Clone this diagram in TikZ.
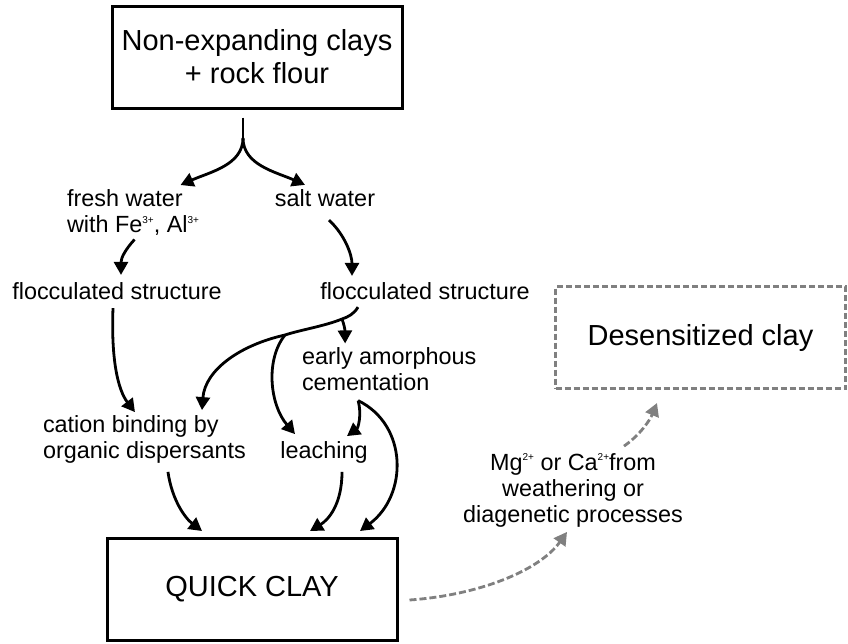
\documentclass[tikz,border=0pt]{standalone}
\usepackage{fontspec}
\setmainfont{Liberation Sans}
\usetikzlibrary{arrows.meta}
\newcommand{\chg}[1]{\raisebox{9.5pt}{\fontsize{10}{10}\selectfont #1}}
\tikzset{
	bigbox/.style={draw, line width=3pt, minimum width=290pt, minimum height=102pt, align=center, font=\fontsize{29}{33}\selectfont},
	txt/.style={inner sep=0pt, outer sep=0pt, font=\fontsize{23.4}{26}\selectfont},
	flow/.style={line width=2.8pt, -{Triangle[length=13pt,width=14pt]}},
	grayflow/.style={flow, draw=black!50, dash pattern=on 7pt off 3pt},
}

\begin{document}
\begin{tikzpicture}[x=1pt, y=-1pt]
		%%%%% START %%%%%
		\useasboundingbox (0,0) rectangle (848,643);
		
		\node[bigbox] (top) at (257,57) {Non-expanding clays\\+ rock flour};
		\node[bigbox] (quick) at (252,589.5) {QUICK CLAY};
		\node[bigbox, draw=black!50, dash pattern=on 6pt off 3pt] (desens) at (700.5,337.5) {Desensitized clay};
		
		\node[txt, anchor=west, align=left] (fresh) at (67,213) {fresh water\\with Fe\chg{3+}, Al\chg{3+}};
		\node[txt] (salt) at (325,198.5) {salt water};
		\node[txt] (flocL) at (117,291.5) {flocculated structure};
		\node[txt] (flocR) at (425,291.5) {flocculated structure};
		\node[txt, anchor=west, align=left] (early) at (302,369) {early amorphous\\cementation};
		\node[txt, anchor=west, align=left] (cation) at (43,439) {cation binding by\\organic dispersants};
		\node[txt] (leach) at (324,452) {leaching};
		\node[txt, align=center] (mg) at (573,490) {Mg\chg{2+} or Ca\chg{2+}from\\weathering or\\diagenetic processes};
		
		\coordinate (fork) at (243,138);
		\coordinate (nub) at (342,319);
		\coordinate (knot) at (285,335);
		
		% top split
		\draw[line width=2.8pt] ([shift={(-14,8)}]top.south) -- (fork);
		\draw[flow] (fork) .. controls (243,165) and (210,172) .. ([shift={(47.5,-5)}]fresh.north);
		\draw[flow] (fork) .. controls (243,165) and (276,172) .. ([shift={(-20,-5)}]salt.north);
		
		\draw[flow] ([shift={(1.5,3.5)}]fresh.south) .. controls (125,250) and (121,258) .. ([shift={(4,-8)}]flocL.north);
		\draw[flow] ([shift={(4,13)}]salt.south) .. controls (345,235) and (352,255) .. ([shift={(-73,-7)}]flocR.north);
		
		\draw[flow] ([shift={(-4,8)}]flocL.south) .. controls (111,360) and (118,390) .. ([shift={(-9.5,-3)}]cation.north);
		
		% salt water branch
		\draw[line width=2.8pt] ([shift={(-67,7)}]flocR.south) .. controls (354,314) and (348,317) .. (nub)
			.. controls (325,326) and (300,330) .. (knot);
		\draw[flow] (nub) .. controls (346,330) and (345,335) .. ([shift={(-44,-4)}]early.north);
		\draw[flow] (knot) .. controls (240,345) and (205,370) .. ([shift={(57.5,-5)}]cation.north);
		\draw[flow] (knot) .. controls (265,360) and (270,405) .. ([shift={(-29,-7)}]leach.north);
		
		\draw[flow] ([shift={(-31,10)}]early.south) .. controls (362,415) and (358,428) .. ([shift={(23,-5)}]leach.north);
		\draw[flow] ([shift={(-31,10)}]early.south) .. controls (408,425) and (408,495) .. ([shift={(108,-6)}]quick.north);
		
		\draw[flow] ([shift={(23.5,9)}]cation.south) .. controls (172,500) and (185,518) .. ([shift={(-50,-6)}]quick.north);
		\draw[flow] ([shift={(18,9)}]leach.south) .. controls (342,505) and (328,520) .. ([shift={(58,-6)}]quick.north);
		
		% desensitizing
		\draw[grayflow] ([shift={(11,10.5)}]quick.east) .. controls (480,595) and (540,570) .. ([shift={(-6,5)}]mg.south);
		\draw[grayflow] ([shift={(51,-7)}]mg.north) .. controls (640,435) and (650,420) .. ([shift={(-43.5,13)}]desens.south);
		%%%%% END %%%%%
	\end{tikzpicture}
\end{document}
